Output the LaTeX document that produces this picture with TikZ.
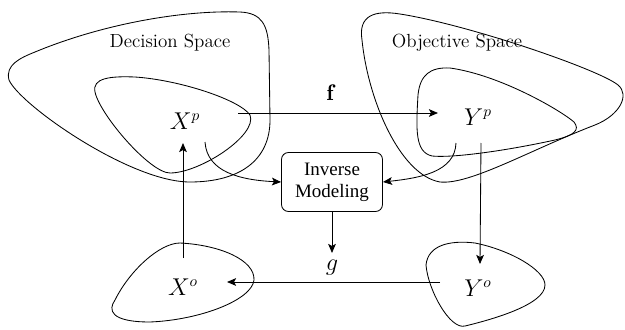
\documentclass[tikz,border=0pt]{standalone}
\usepackage{fontspec}
\newfontfamily\timesfont{Liberation Serif}
\usetikzlibrary{arrows.meta}

\tikzset{
  blob/.style={line width=0.6pt},
  conn/.style={line width=0.6pt,-{Stealth[length=6.5pt,width=5.5pt,inset=1.5pt]}},
  setlabel/.style={font=\fontsize{13.5}{15}\selectfont},
  varlabel/.style={font=\fontsize{16}{18}\selectfont,inner sep=1pt},
  invbox/.style={draw,line width=0.6pt,rounded corners=5pt,minimum width=2.525cm,
    minimum height=1.475cm,align=center,font=\timesfont\fontsize{13.5}{15.5}\selectfont}
}

\begin{document}
\begin{tikzpicture}[x=0.025cm,y=-0.025cm]
 \useasboundingbox (0,0) rectangle (625,329);

 % decision space and its Pareto set
 \draw[blob] (9,80) .. controls (5,65) and (20,58) .. (35,52)
   .. controls (100,25) and (180,10) .. (240,12)
   .. controls (262,13) and (268,25) .. (269,50) -- (270,120)
   .. controls (270,160) and (240,182) .. (190,182)
   .. controls (130,182) and (20,105) .. cycle;
 \draw[blob] (95,92) .. controls (92,78) and (110,76) .. (135,77)
   .. controls (180,80) and (240,100) .. (250,115)
   .. controls (258,135) and (200,173) .. (170,173)
   .. controls (150,173) and (100,115) .. cycle;

 % objective space and its Pareto front
 \draw[blob] (362,40) .. controls (358,15) and (375,10) .. (400,14)
   .. controls (470,25) and (600,70) .. (618,85)
   .. controls (630,95) and (620,115) .. (595,125)
   .. controls (530,150) and (470,185) .. (440,182)
   .. controls (400,175) and (368,100) .. cycle;
 \draw[blob] (418,95) .. controls (420,75) and (430,67) .. (450,68)
   .. controls (500,75) and (560,110) .. (574,122)
   .. controls (580,130) and (575,135) .. (555,140)
   .. controls (500,152) and (450,158) .. (432,156)
   .. controls (415,152) and (416,130) .. cycle;

 % the two sampled sets
 \draw[blob] (426,265) .. controls (428,245) and (450,240) .. (475,243)
   .. controls (510,250) and (545,270) .. (545,285)
   .. controls (545,305) and (490,320) .. (465,326)
   .. controls (450,330) and (428,290) .. cycle;
 \draw[blob] (180,243) .. controls (220,245) and (255,260) .. (254,280)
   .. controls (252,300) and (200,320) .. (150,322)
   .. controls (110,322) and (108,310) .. (115,300)
   .. controls (130,270) and (160,243) .. cycle;

 % labels
 \node[setlabel] (dec) at (170,43) {Decision Space};
 \node[setlabel] (obj) at (457,43) {Objective Space};
 \node[varlabel] (Xp) at (185,121) {$X^p$};
 \node[varlabel] (Yp) at (478,117) {$Y^p$};
 \node[varlabel] (Xo) at (183,287) {$X^o$};
 \node[varlabel] (Yo) at (478,288) {$Y^o$};
 \node[varlabel] (f) at (330,93) {$\mathbf{f}$};
 \node[varlabel] (g) at (332,268) {$g$};
 \node[invbox] (inv) at (332,182) {Inverse\\Modeling};

 % mappings
 \draw[conn] ([shift={(53,-8)}]Xp.center) -- ([shift={(-40,-4)}]Yp.center);
 \draw[conn] ([shift={(20,21)}]Xp.center) .. controls (207,172) and (240,180) .. (inv.west);
 \draw[conn] ([shift={(-22,26)}]Yp.center) .. controls (455,172) and (420,178) .. (inv.east);
 \draw[conn] ([shift={(3,26)}]Yp.center) -- ([shift={(2,-24)}]Yo.center);
 \draw[conn] (inv.south) -- ([shift={(0,-15)}]g.center);
 \draw[conn] ([shift={(-38,-6)}]Yo.center) -- ([shift={(44,-5)}]Xo.center);
 \draw[conn] ([shift={(0,-29)}]Xo.center) -- ([shift={(-2,22)}]Xp.center);
\end{tikzpicture}
\end{document}
